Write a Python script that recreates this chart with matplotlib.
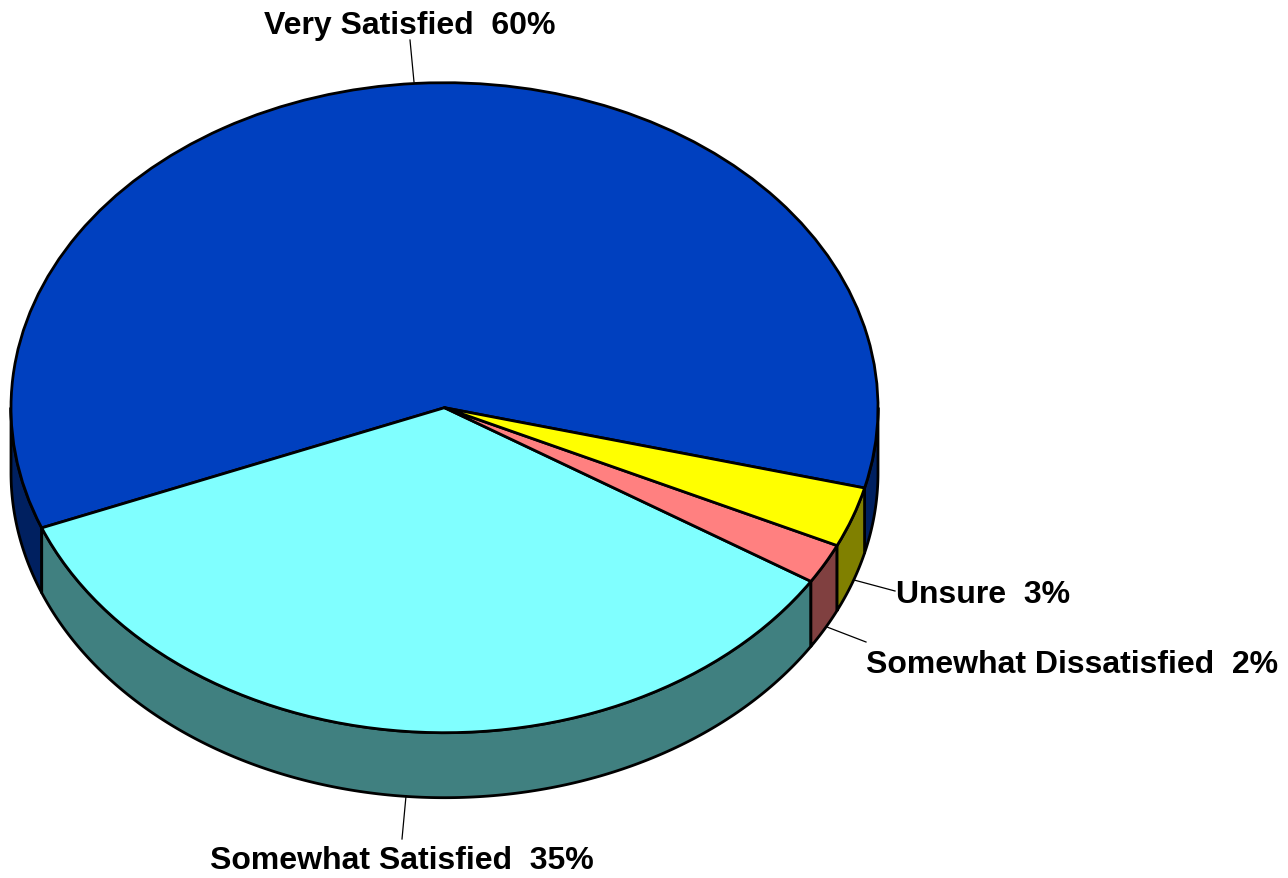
import numpy as np
import matplotlib
matplotlib.use("Agg")
import matplotlib.pyplot as plt

labels = ["Very Satisfied", "Somewhat Satisfied", "Somewhat Dissatisfied", "Unsure"]
values = [60, 35, 2, 3]
topColors = ["#0040BF", "#80FFFF", "#FF8080", "#FFFF00"]
sideColors = ["#002060", "#408080", "#804040", "#808000"]

# picture geometry in pixels
W, H = 1288, 879
cx, cy = 444.5, 408.7
rx, ry = 433.5, 325
depth = 65
startAngle = -14.3

def px(x, y):
    return (x - cx) / rx, (cy - y) / ry

fig = plt.figure(figsize=(W / 100, H / 100), dpi=100)
ax = fig.add_axes([0, 0, 1, 1])
drop = depth / ry

# side wall first, only the part that faces the viewer (180..360 deg)
edges = startAngle + np.cumsum([0] + values) * 3.6
for i in range(len(values)):
    a0, a1 = edges[i], edges[i + 1]
    for lo, hi in [(a0, a1), (a0 + 360, a1 + 360), (a0 - 360, a1 - 360)]:
        lo, hi = max(lo, 180), min(hi, 360)
        if hi <= lo:
            continue
        t = np.radians(np.linspace(lo, hi, 200))
        xs = np.cos(t)
        ys = np.sin(t)
        ax.fill(np.r_[xs, xs[::-1]], np.r_[ys, ys[::-1] - drop],
                facecolor=sideColors[i], edgecolor="black", linewidth=2.0,
                joinstyle="round", zorder=1)

ax.pie(values, colors=topColors, startangle=startAngle, counterclock=True,
       wedgeprops=dict(edgecolor="black", linewidth=2.0, joinstyle="round", zorder=2))

ax.set_aspect("auto")
ax.set_xlim(-cx / rx, (W - cx) / rx)
ax.set_ylim((cy - H) / ry, cy / ry)
ax.axis("off")

# leader lines and labels, pixel positions
leaders = [((414, 83), (410, 41)), ((406, 797), (402, 840)),
           ((827, 628), (866, 643)), ((854, 581), (895, 592))]
labelPos = [(264, 26), (210, 861), (866, 665), (896, 595)]

for name, val, (p0, p1), (lx, ly) in zip(labels, values, leaders, labelPos):
    x0, y0 = px(*p0)
    x1, y1 = px(*p1)
    ax.plot([x0, x1], [y0, y1], color="black", linewidth=0.9, zorder=3, clip_on=False)
    tx, ty = px(lx, ly)
    ax.text(tx, ty, f"{name}  {val}%", family="Liberation Sans", fontweight="bold",
            fontsize=23, ha="left", va="center", color="black", zorder=4)

fig.savefig("out.png", dpi=100, facecolor="white")
